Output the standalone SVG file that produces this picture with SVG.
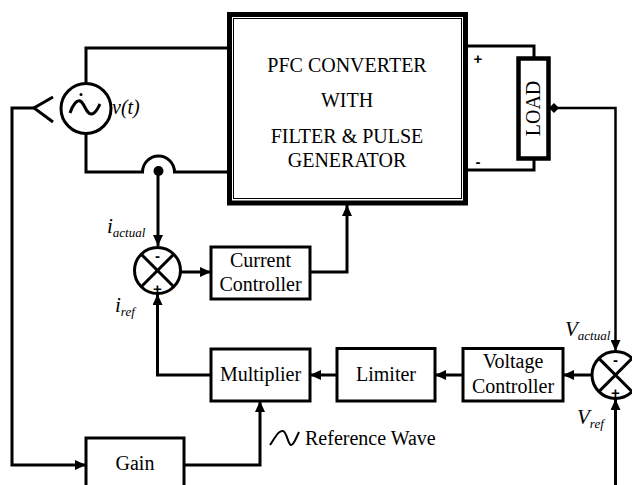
<svg xmlns="http://www.w3.org/2000/svg" width="632" height="485" viewBox="0 0 632 485">
<style>
.w{fill:none;stroke:#000;stroke-width:3;stroke-linejoin:miter}
.t{stroke-width:2.5}
.box{fill:#fff;stroke:#000;stroke-width:3}
.lbl{font-family:"Liberation Serif","Times New Roman",serif;font-size:20px;fill:#000;text-anchor:middle}
.it{font-family:"Liberation Serif","Times New Roman",serif;font-style:italic;fill:#000}
.sg{font-family:"Liberation Sans",Arial,sans-serif;font-weight:bold;font-size:15px;fill:#000;text-anchor:middle}
</style>
<defs>
<marker id="ah" markerUnits="userSpaceOnUse" markerWidth="12" markerHeight="10" refX="11" refY="5" orient="auto">
<path d="M0,0 L11,5 L0,10 z" fill="#000"/>
</marker>
<marker id="dm" markerUnits="userSpaceOnUse" markerWidth="10" markerHeight="10" refX="5" refY="5" orient="auto">
<path d="M0,5 L5,0 L10,5 L5,10 z" fill="#000"/>
</marker>
</defs>

<g id="connectors">
<!-- source to converter -->
<path class="w" d="M86,83 V48 H229"/>
<path class="w" d="M86,134 V172 H142.5 A16,16 0 0 1 174.5,172 H229"/>
<circle cx="158.5" cy="171" r="5" fill="#000"/>
<!-- current sense to junction 1 -->
<path class="w" d="M158,171 V246" marker-end="url(#ah)"/>
<!-- sense arrowhead at source -->
<path class="w" d="M53,97 L34,108 L53,122"/>
<path class="w" d="M34,108 H12 V465 H86" marker-end="url(#ah)"/>
<!-- converter to load -->
<path class="w" d="M466,46 H534 V57"/>
<path class="w" d="M466,170 H534 V159"/>
<!-- load voltage to junction 2 -->
<path class="w t" d="M554,108 H615.5 V351" marker-start="url(#dm)" marker-end="url(#ah)"/>
<!-- Vref -->
<path class="w" d="M615.5,485 V399" marker-end="url(#ah)"/>
<!-- junction 2 to voltage controller -->
<path class="w" d="M592,375 H563" marker-end="url(#ah)"/>
<path class="w" d="M463,375 H435" marker-end="url(#ah)"/>
<path class="w" d="M337,375 H310" marker-end="url(#ah)"/>
<!-- multiplier to junction 1 -->
<path class="w" d="M211,375 H157.5 V294" marker-end="url(#ah)"/>
<!-- gain to multiplier -->
<path class="w" d="M184,465 H260 V401" marker-end="url(#ah)"/>
<!-- junction 1 to current controller -->
<path class="w" d="M181,272 H211" marker-end="url(#ah)"/>
<path class="w" d="M310,272 H347 V205" marker-end="url(#ah)"/>
</g>

<g id="source">
<circle cx="86" cy="108.5" r="25" fill="#fff" stroke="#000" stroke-width="3"/>
<path d="M70,113 C73,104 77,100 80,101 C85,103 86,115 92,114 C96,113 98,108 100,104" fill="none" stroke="#000" stroke-width="3"/>
<circle cx="81" cy="94.5" r="1.5" fill="#000"/>
<text class="it" x="112" y="114" font-size="20">v(t)</text>
</g>

<g id="converter">
<rect x="229.5" y="14.5" width="236" height="188.5" fill="#fff" stroke="#000" stroke-width="5"/>
<rect x="233.5" y="18.5" width="228" height="180" fill="none" stroke="#000" stroke-width="1"/>
<text class="lbl" x="347" y="72">PFC CONVERTER</text>
<text class="lbl" x="347" y="107">WITH</text>
<text class="lbl" x="347" y="143">FILTER &amp; PULSE</text>
<text class="lbl" x="347" y="167">GENERATOR</text>
<text class="sg" x="478" y="64">+</text>
<text class="sg" x="478" y="167">-</text>
</g>

<g id="load">
<rect x="518.5" y="58.5" width="30" height="100" fill="#fff" stroke="#000" stroke-width="4.5"/>
<text class="lbl" transform="translate(540,108.5) rotate(-90)" x="0" y="0">LOAD</text>
</g>

<g id="junction1">
<circle cx="157.5" cy="270.5" r="23" fill="#fff" stroke="#000" stroke-width="3"/>
<path d="M141.2,254.2 L173.8,286.8 M173.8,254.2 L141.2,286.8" stroke="#000" stroke-width="3"/>
<text class="sg" x="157.5" y="261">-</text>
<text class="sg" x="157.5" y="294">+</text>
<text class="it" x="107" y="233" font-size="21">i<tspan font-size="13" dy="4">actual</tspan></text>
<text class="it" x="115" y="312" font-size="21">i<tspan font-size="13" dy="4">ref</tspan></text>
</g>

<g id="current-controller">
<rect class="box" x="211" y="247" width="99" height="52"/>
<text class="lbl" x="260.5" y="267">Current</text>
<text class="lbl" x="260.5" y="291">Controller</text>
</g>

<g id="multiplier">
<rect class="box" x="211" y="349" width="99" height="52"/>
<text class="lbl" x="260.5" y="381">Multiplier</text>
</g>

<g id="limiter">
<rect class="box" x="337" y="348.5" width="98" height="52.5"/>
<text class="lbl" x="386" y="381">Limiter</text>
</g>

<g id="voltage-controller">
<rect class="box" x="463" y="348.5" width="100" height="52.5"/>
<text class="lbl" x="513" y="368">Voltage</text>
<text class="lbl" x="513" y="393">Controller</text>
</g>

<g id="junction2">
<circle cx="615.5" cy="375" r="23.5" fill="#fff" stroke="#000" stroke-width="3"/>
<path d="M598.9,358.4 L632.1,391.6 M632.1,358.4 L598.9,391.6" stroke="#000" stroke-width="3"/>
<text class="sg" x="615.5" y="365">-</text>
<text class="sg" x="615.5" y="398">+</text>
<text class="it" x="565" y="336" font-size="21">V<tspan font-size="13" dy="4">actual</tspan></text>
<text class="it" x="577" y="424" font-size="21">V<tspan font-size="13" dy="4">ref</tspan></text>
</g>

<g id="gain">
<rect class="box" x="86" y="438" width="98" height="60"/>
<text class="lbl" x="135" y="470">Gain</text>
</g>

<g id="reference-wave">
<path d="M270,445 C276,436 279,430 283,431 C287,432 288,445 291,445 C294,445 296,438 299,432" fill="none" stroke="#000" stroke-width="2"/>
<text class="lbl" x="305" y="445" style="text-anchor:start">Reference Wave</text>
</g>
</svg>
